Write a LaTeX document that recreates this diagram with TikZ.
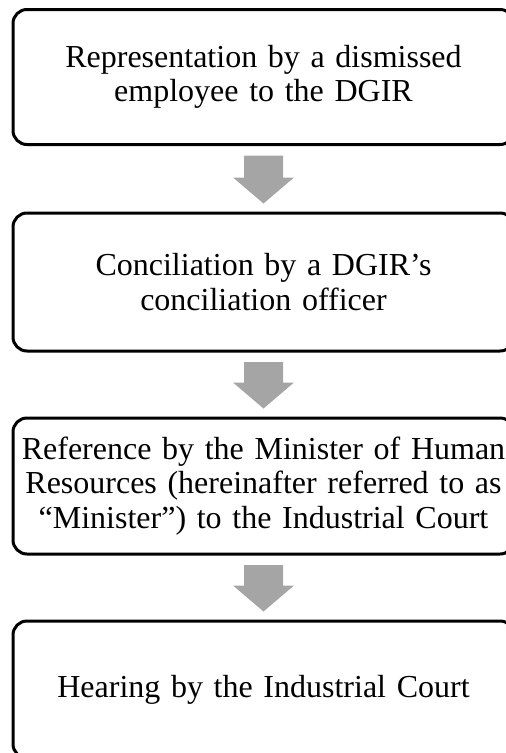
\documentclass[tikz,border=0pt]{standalone}
\usepackage{fontspec}
\setmainfont{Liberation Serif}[WordSpace=0.8]
\usetikzlibrary{calc}
\definecolor{arrowgray}{HTML}{A5A5A5}
\tikzset{
  stepbox/.style={draw=black, line width=3pt, rounded corners=14pt,
    minimum width=501pt, text width=497pt, inner xsep=0pt, align=center,
    font=\fontsize{32}{34.5}\selectfont},
}
\newcommand{\flowarrow}[2]{%
  \fill[arrowgray] ($(#1.south)+(-19.5,9.5)$) -- ($(#1.south)+(19.5,9.5)$)
    -- ($(#2.north)+(19.5,-34)$) -- ($(#2.north)+(30.5,-34)$)
    -- ($(#2.north)+(0,-8)$) -- ($(#2.north)+(-30.5,-34)$)
    -- ($(#2.north)+(-19.5,-34)$) -- cycle;}
\begin{document}
\begin{tikzpicture}[x=1pt,y=-1pt]
\useasboundingbox (0,0) rectangle (506,753);
\clip (0,0) rectangle (506,753);
\node[stepbox, minimum height=135pt] (b1) at (263.5,77) {Representation by a dismissed\\employee to the DGIR};
\node[stepbox, minimum height=138pt] (b2) at (263.5,282) {Conciliation by a DGIR’s\\conciliation officer};
\node[stepbox, minimum height=136pt] (b3) at (263.5,486) {Reference by the Minister of Human\\Resources (hereinafter referred to as\\“Minister”) to the Industrial Court};
\node[stepbox, minimum height=137pt] (b4) at (263.5,689.5) {Hearing by the Industrial Court};
\flowarrow{b1}{b2}
\flowarrow{b2}{b3}
\flowarrow{b3}{b4}
\end{tikzpicture}
\end{document}
